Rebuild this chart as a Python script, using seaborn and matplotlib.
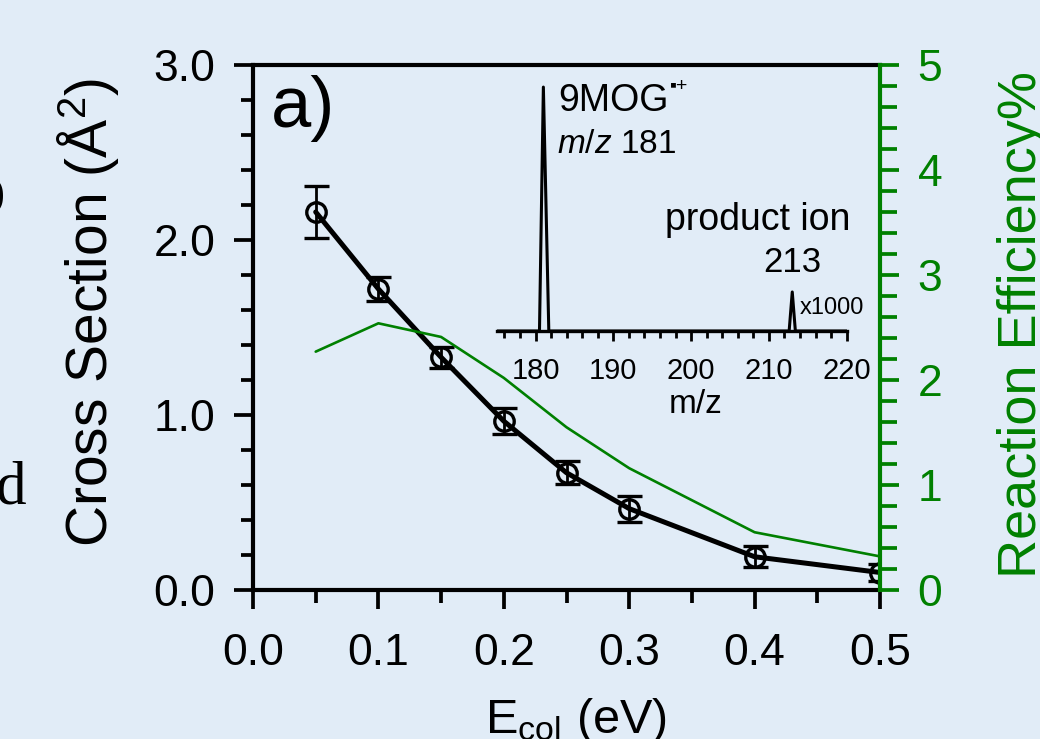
import matplotlib
matplotlib.use("Agg")
import matplotlib.pyplot as plt
from matplotlib.ticker import MultipleLocator, FixedLocator
import numpy as np
import pandas as pd
import seaborn as sns

# Collision energy (eV)
energy = [0.05, 0.10, 0.15, 0.20, 0.25, 0.30, 0.40, 0.50]
# Reaction cross section (Å^2) with uncertainty
cross_section = [2.16, 1.72, 1.33, 0.965, 0.67, 0.465, 0.19, 0.10]
cross_err = [0.15, 0.07, 0.06, 0.075, 0.065, 0.075, 0.06, 0.05]
# Reaction efficiency (%)
efficiency = [2.27, 2.54, 2.41, 2.02, 1.55, 1.16, 0.55, 0.32]

# Inset mass spectrum: relative intensity (product ion scaled x1000)
spec_mz = [175.0, 180.5, 181.0, 181.7, 212.6, 213.0, 213.4, 220.0]
spec_int = [0, 0, 100, 0, 0, 16, 0, 0]

x_ticks = [0.0, 0.1, 0.2, 0.3, 0.4, 0.5]
y_ticks = [0.0, 1.0, 2.0, 3.0]
eff_ticks = [0, 1, 2, 3, 4, 5]
mz_ticks = [180, 190, 200, 210, 220]

BG = "#e1ecf7"
GREEN = "#008000"
W, H = 1040, 739

sns.set_theme(style="ticks")
plt.rcParams["font.family"] = ["Liberation Sans", "DejaVu Sans"]
plt.rcParams["mathtext.fontset"] = "custom"
plt.rcParams["mathtext.rm"] = "Liberation Sans"
plt.rcParams["mathtext.it"] = "Liberation Sans:italic"
plt.rcParams["mathtext.bf"] = "Liberation Sans:bold"
for key in ["text.color", "axes.labelcolor", "xtick.color", "ytick.color",
            "axes.edgecolor"]:
    plt.rcParams[key] = "black"


def fx(px):
    return px / W


def fy(py):
    return 1 - py / H


df = pd.DataFrame({"energy": energy, "cs": cross_section,
                   "err": cross_err, "eff": efficiency})
spec = pd.DataFrame({"mz": spec_mz, "intensity": spec_int})

fig = plt.figure(figsize=(W / 100, H / 100), dpi=100, facecolor=BG)

# main axes: cross section vs collision energy
ax = fig.add_axes([fx(253), fy(590), (880 - 253) / W, (590 - 65) / H])
ax.set_facecolor(BG)
sns.lineplot(data=df, x="energy", y="cs", ax=ax, color="black",
             lw=3.6, zorder=3)
ax.errorbar(df["energy"], df["cs"], yerr=df["err"], fmt="o", ms=14,
            mfc="none", mec="black", mew=2.4, ecolor="black",
            elinewidth=2.0, capsize=9, capthick=2.0, zorder=4)
ax.set_xlim(0, 0.5)
ax.set_ylim(0, 3)
ax.xaxis.set_major_locator(FixedLocator(x_ticks))
ax.yaxis.set_major_locator(FixedLocator(y_ticks))
ax.xaxis.set_minor_locator(MultipleLocator(0.05))
ax.yaxis.set_minor_locator(MultipleLocator(0.2))
ax.set_xticklabels([f"{v:.1f}" for v in x_ticks])
ax.set_yticklabels([f"{v:.1f}" for v in y_ticks])
ax.tick_params(which="major", length=14, width=2.7, color="black",
               labelsize=32, labelcolor="black", direction="out")
ax.tick_params(which="minor", length=9, width=2.7, color="black",
               direction="out")
ax.tick_params(axis="x", which="major", pad=17)
ax.tick_params(axis="y", which="major", pad=13)
ax.tick_params(top=False, right=False, which="both")
for s in ["left", "bottom", "top"]:
    ax.spines[s].set_linewidth(3.0)
    ax.spines[s].set_color("black")
ax.spines["right"].set_visible(False)
ax.set_xlabel("")
ax.set_ylabel("")

# secondary axis: reaction efficiency
ax2 = ax.twinx()
sns.lineplot(data=df, x="energy", y="eff", ax=ax2, color=GREEN,
             lw=1.9, zorder=2)
ax2.set_ylim(0, 5)
ax2.yaxis.set_major_locator(FixedLocator(eff_ticks))
ax2.yaxis.set_minor_locator(MultipleLocator(0.2))
ax2.set_yticklabels([str(v) for v in eff_ticks])
ax2.tick_params(axis="y", which="major", length=14, width=2.7,
                color=GREEN, labelcolor=GREEN, labelsize=32, pad=13)
ax2.tick_params(axis="y", which="minor", length=12, width=2.7,
                color=GREEN)
for s in ["left", "bottom", "top"]:
    ax2.spines[s].set_visible(False)
ax2.spines["right"].set_color(GREEN)
ax2.spines["right"].set_linewidth(3.0)
ax2.set_xlabel("")
ax2.set_ylabel("")

# inset: mass spectrum
axin = fig.add_axes([fx(496.7), fy(331), 350 / W, (331 - 80) / H])
axin.patch.set_alpha(0)
sns.lineplot(data=spec, x="mz", y="intensity", ax=axin, color="black",
             lw=2.2)
axin.set_xlim(175, 220)
axin.set_ylim(0, 102.9)
axin.xaxis.set_major_locator(FixedLocator(mz_ticks))
axin.xaxis.set_minor_locator(MultipleLocator(2))
axin.set_xticklabels([str(v) for v in mz_ticks])
axin.set_yticks([])
axin.tick_params(axis="x", which="major", length=7.5, width=2.0,
                 labelsize=21, pad=11, color="black", labelcolor="black")
axin.tick_params(axis="x", which="minor", length=5, width=2.0,
                 color="black")
for s in ["left", "right", "top"]:
    axin.spines[s].set_visible(False)
axin.spines["bottom"].set_linewidth(2.4)
axin.spines["bottom"].set_color("black")
axin.set_xlabel("")
axin.set_ylabel("")

# annotations
fig.text(fx(271), fy(127), "a)", fontsize=52, ha="left", va="baseline")
fig.text(fx(558), fy(111), "9MOG", fontsize=27, ha="left", va="baseline")
fig.text(fx(670), fy(91), "▪+", fontsize=14, ha="left", va="baseline")
fig.text(fx(557), fy(153), r"$m/z$ 181", fontsize=24, ha="left",
         va="baseline")
fig.text(fx(665), fy(230), "product ion", fontsize=27, ha="left",
         va="baseline")
fig.text(fx(763), fy(272), "213", fontsize=25, ha="left", va="baseline")
fig.text(fx(800), fy(314), "x1000", fontsize=17, ha="left", va="baseline")
fig.text(fx(696), fy(413), "m/z", fontsize=24, ha="center", va="baseline")

# axis titles
fig.text(fx(121), fy(312), "Cross Section (Å$^2$)", fontsize=41,
         rotation=90, ha="right", va="center")
fig.text(fx(997), fy(325), "Reaction Efficiency%", fontsize=39,
         rotation=90, ha="left", va="center", color=GREEN)
fig.text(fx(576), fy(733), r"E$_{\rm col}$ (eV)", fontsize=35,
         ha="center", va="baseline")

# neighbouring page text at the left margin
fig.text(fx(26), fy(503), "d", fontsize=44, family="Liberation Serif",
         ha="right", va="baseline")
fig.text(fx(5), fy(196), ")", fontsize=30, family="Liberation Serif",
         weight="bold", ha="right", va="center")

fig.savefig("out.png", dpi=100, facecolor=BG)
